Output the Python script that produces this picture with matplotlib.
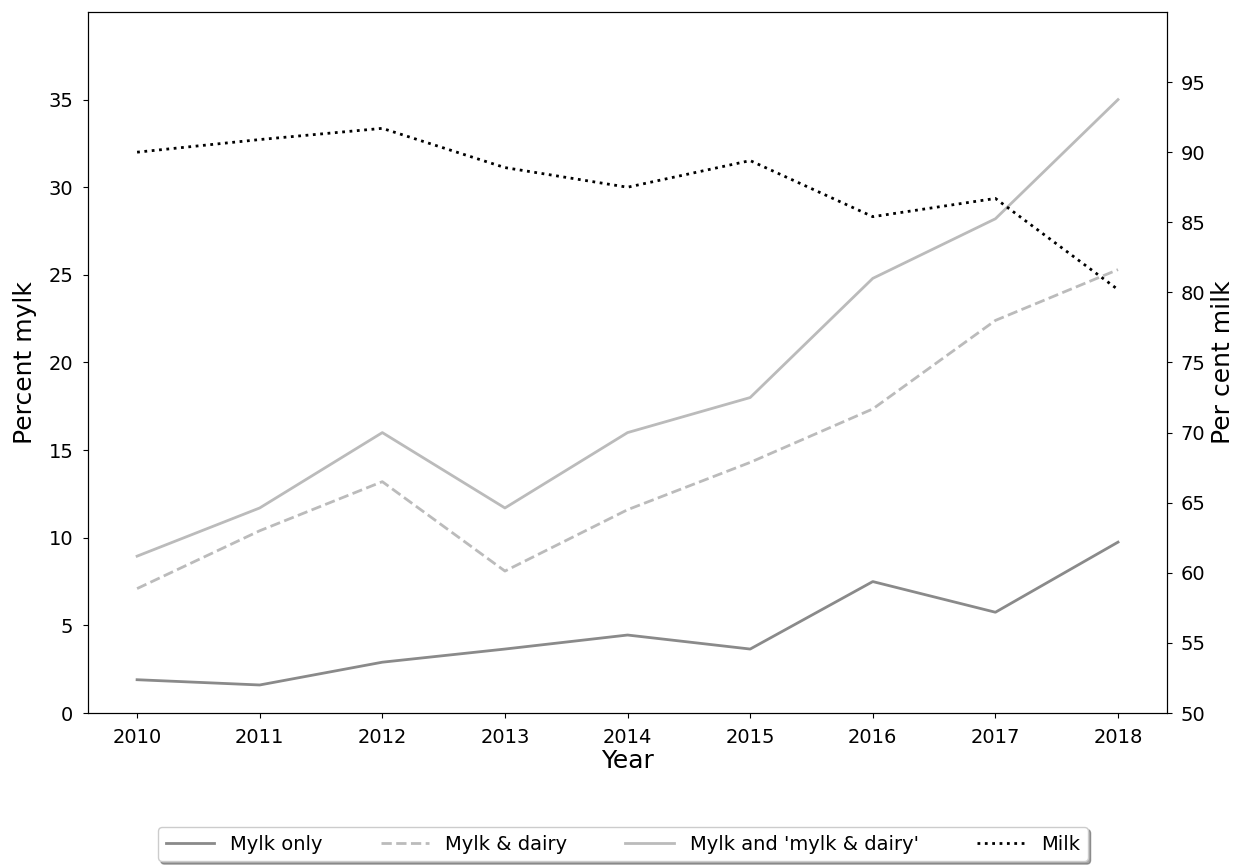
import matplotlib
matplotlib.use("Agg")
import matplotlib.pyplot as plt

plt.rcParams['font.family'] = 'DejaVu Sans'

years = [2010, 2011, 2012, 2013, 2014, 2015, 2016, 2017, 2018]
mylk_only = [1.9, 1.6, 2.9, 3.65, 4.45, 3.65, 7.5, 5.75, 9.75]
mylk_dairy = [7.1, 10.4, 13.2, 8.1, 11.6, 14.3, 17.35, 22.4, 25.3]
mylk_any = [8.95, 11.7, 16.0, 11.7, 16.0, 18.0, 24.8, 28.2, 35.0]
milk = [90.0, 90.9, 91.7, 88.9, 87.5, 89.4, 85.4, 86.7, 80.2]

fig = plt.figure(figsize=(12.47, 8.67), dpi=100)
ax = fig.add_axes([0.0706, 0.1776, 0.8653, 0.8086])

l1, = ax.plot(years, mylk_only, color='#8a8a8a', lw=2, label='Mylk only')
l2, = ax.plot(years, mylk_dairy, color='#bbbbbb', lw=2, ls='--', label='Mylk & dairy')
l3, = ax.plot(years, mylk_any, color='#bbbbbb', lw=2, label="Mylk and 'mylk & dairy'")
ax.set_ylim(0, 40)
ax.set_yticks(range(0, 40, 5))
ax.set_xticks(years)
ax.set_xlabel('Year', fontsize=18, labelpad=2)
ax.set_ylabel('Percent mylk', fontsize=18, labelpad=8)
ax.tick_params(labelsize=14, pad=7)

ax2 = ax.twinx()
l4, = ax2.plot(years, milk, color='black', lw=2, ls=':', label='Milk')
ax2.set_ylim(50, 100)
ax2.set_yticks(range(50, 100, 5))
ax2.set_ylabel('Per cent milk', fontsize=18, labelpad=4)
ax2.tick_params(labelsize=14, pad=6)

fig.legend(handles=[l1, l2, l3, l4], loc='center', bbox_to_anchor=(0.4995, 0.0265),
           ncol=4, fontsize=14, shadow=True, fancybox=True, columnspacing=3.0,
           handlelength=2.5)

plt.savefig('out.png', dpi=100)
